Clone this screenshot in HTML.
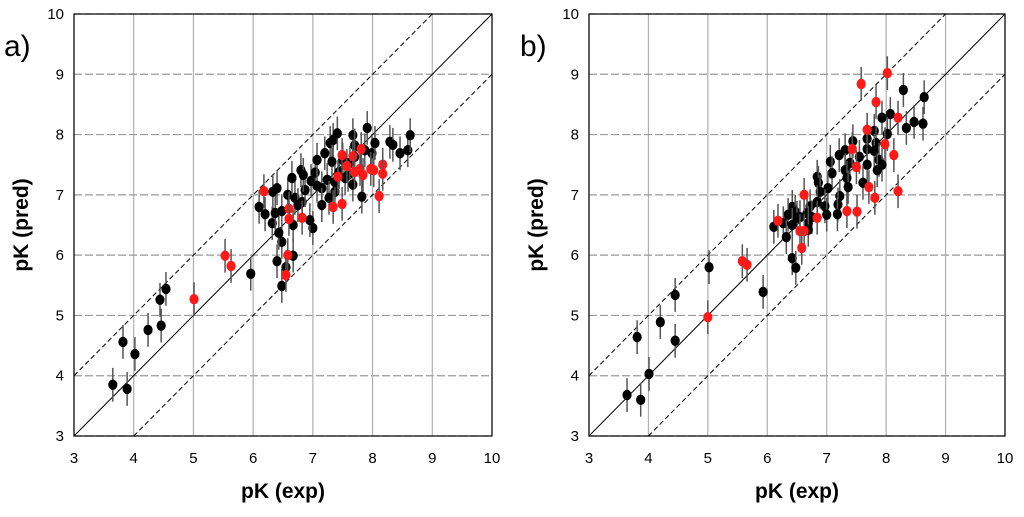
<!DOCTYPE html>
<html><head><meta charset="utf-8"><style>
body{margin:0;background:#fff;width:1024px;height:512px;overflow:hidden;font-family:"Liberation Sans",sans-serif}
</style></head><body>
<svg id="chart" width="1024" height="512" xmlns="http://www.w3.org/2000/svg"></svg>
<script>
const ticks=[3,4,5,6,7,8,9,10];
const aBlackX=[3.65,3.89,3.82,4.02,4.24,4.46,4.44,4.54,5.96,6.48,6.40,6.55,6.67,6.48,6.43,6.32,6.20,6.10,6.33,6.40,6.37,6.48,6.58,6.70,6.75,6.82,6.67,7.0,6.95,6.87,6.80,6.65,6.84,6.97,7.04,7.07,7.07,7.15,7.20,7.29,7.34,7.41,7.32,7.24,7.15,7.27,7.37,7.37,7.44,7.50,7.54,7.59,7.67,7.70,7.70,7.62,7.67,7.82,7.91,7.87,7.99,8.04,8.29,8.34,8.46,8.59,8.63];
const aBlackY=[3.85,3.78,4.56,4.36,4.76,4.83,5.26,5.44,5.69,5.49,5.90,5.80,5.99,6.22,6.37,6.53,6.68,6.80,7.05,7.11,6.70,6.73,7.0,6.95,6.83,6.88,6.50,6.45,6.58,7.08,7.41,7.28,7.33,7.23,7.37,7.58,7.15,7.11,7.69,7.86,7.91,8.02,7.55,7.25,6.83,6.95,7.05,7.21,7.38,7.58,7.28,7.33,7.99,7.82,7.63,7.53,7.17,6.97,8.11,7.74,7.69,7.86,7.88,7.83,7.69,7.74,7.99];
const aRedX=[5.01,5.53,5.63,6.18,6.60,6.60,6.82,6.58,6.55,7.34,7.49,7.42,7.49,7.57,7.67,7.70,7.79,7.84,7.81,7.97,8.02,8.17,8.17,8.11];
const aRedY=[5.27,5.99,5.82,7.06,6.77,6.60,6.62,6.0,5.67,6.80,6.85,7.30,7.66,7.48,7.64,7.38,7.43,7.33,7.76,7.43,7.41,7.50,7.35,6.98];
const bBlackX=[8.29,8.64,8.47,8.62,8.34,8.07,7.93,7.80,8.02,7.68,7.83,7.44,7.31,7.21,7.68,7.55,7.80,7.88,7.93,7.85,7.68,7.39,7.31,7.06,7.09,7.34,7.36,7.61,6.84,6.86,6.89,7.02,7.22,7.19,6.97,6.84,7.0,7.18,6.72,6.67,6.75,6.69,6.69,6.42,6.47,6.35,6.50,6.42,6.27,6.11,6.32,6.42,6.48,6.55,5.02,4.45,4.45,4.20,3.81,3.64,3.87,4.01,5.93];
const bBlackY=[8.74,8.62,8.21,8.18,8.11,8.34,8.28,8.06,8.01,7.93,7.86,7.89,7.74,7.66,7.76,7.63,7.73,7.58,7.50,7.41,7.50,7.53,7.41,7.55,7.36,7.28,7.13,7.20,7.30,7.20,7.05,7.11,6.98,6.84,6.81,6.88,6.67,6.68,6.81,6.70,6.63,6.53,6.42,6.80,6.72,6.67,6.62,6.50,6.53,6.47,6.30,5.95,5.79,6.63,5.80,5.34,4.58,4.89,4.64,3.68,3.60,4.03,5.39];
const bRedX=[8.02,7.58,7.83,8.20,7.68,7.43,7.98,8.13,7.50,7.71,7.81,8.20,7.34,7.51,6.84,6.62,6.18,6.55,6.62,6.58,5.0,5.58,5.66];
const bRedY=[9.02,8.84,8.54,8.28,8.08,7.76,7.84,7.66,7.46,7.13,6.95,7.06,6.73,6.72,6.62,7.0,6.57,6.40,6.40,6.12,4.97,5.90,5.84];
const errBar=0.28;
const NS="http://www.w3.org/2000/svg";
const svg=document.getElementById('chart');
function mk(tag,attrs,parent){const e=document.createElementNS(NS,tag);for(const k in attrs)e.setAttribute(k,attrs[k]);(parent||svg).appendChild(e);return e;}
function panel(id,x0,x1,label,lx,bx,by,rx,ry){
  const y0=436,y1=14;
  const X=v=>x0+(v-3)*(x1-x0)/7, Y=v=>y0-(v-3)*(y0-y1)/7;
  const g=mk('g',{});
  
  
  ticks.forEach(t=>{
    const v=mk('line',{x1:X(t),x2:X(t),y1:y1,y2:y0,stroke:'#b0b0b0','stroke-width':1.2},g);
    
    const h=mk('line',{x1:x0,x2:x1,y1:Y(t),y2:Y(t),stroke:'#999','stroke-width':1.2,'stroke-dasharray':'8,3'},g);
    
    const tx=mk('text',{x:X(t),y:y0+27,'font-size':15,'text-anchor':'middle',fill:'#000'},g);tx.textContent=t;
    
    const ty=mk('text',{x:x0-10,y:Y(t)+5,'font-size':15,'text-anchor':'end',fill:'#000'},g);ty.textContent=t;
    
  });
  const clip=mk('clipPath',{id:'c'+id},g);mk('rect',{x:x0,y:y1,width:x1-x0,height:y0-y1},clip);
  const dg=mk('g',{'clip-path':'url(#c'+id+')'},g);
  const d0=mk('line',{x1:X(3),y1:Y(3),x2:X(10),y2:Y(10),stroke:'#000','stroke-width':1},dg);
  
  const d1=mk('line',{x1:X(3),y1:Y(4),x2:X(9),y2:Y(10),stroke:'#000','stroke-width':1,'stroke-dasharray':'5,3'},dg);
  
  const d2=mk('line',{x1:X(4),y1:Y(3),x2:X(10),y2:Y(9),stroke:'#000','stroke-width':1,'stroke-dasharray':'5,3'},dg);
  
  const pts=(xs,ys,col,name)=>xs.forEach((xv,i)=>{
    const e=mk('line',{x1:X(xv),x2:X(xv),y1:Y(ys[i]-errBar),y2:Y(ys[i]+errBar),stroke:'#555','stroke-width':1.5},g);
    
    const c=mk('ellipse',{cx:X(xv),cy:Y(ys[i]),rx:4.6,ry:5.2,fill:col},g);
    
  });
  pts(bx,by,'#000','point-black');pts(rx,ry,'#ff1a1a','point-red');
  const b=mk('rect',{x:x0,y:y1,width:x1-x0,height:y0-y1,fill:'none',stroke:'#000','stroke-width':1.2},g);
  
  const xt=mk('text',{x:(x0+x1)/2,y:498,'font-size':21,'font-weight':'bold','text-anchor':'middle'},g);xt.textContent='pK (exp)';
  
  const yt=mk('text',{x:0,y:0,'font-size':21,'font-weight':'bold','text-anchor':'middle',transform:`translate(${x0-46},225) rotate(-90)`},g);yt.textContent='pK (pred)';
  
  const pl=mk('text',{x:lx,y:56,'font-size':30},g);pl.textContent=label;
  
}
panel('a',74,492,'a)',4,aBlackX,aBlackY,aRedX,aRedY);
panel('b',589,1005,'b)',520,bBlackX,bBlackY,bRedX,bRedY);
</script>
</body></html>
